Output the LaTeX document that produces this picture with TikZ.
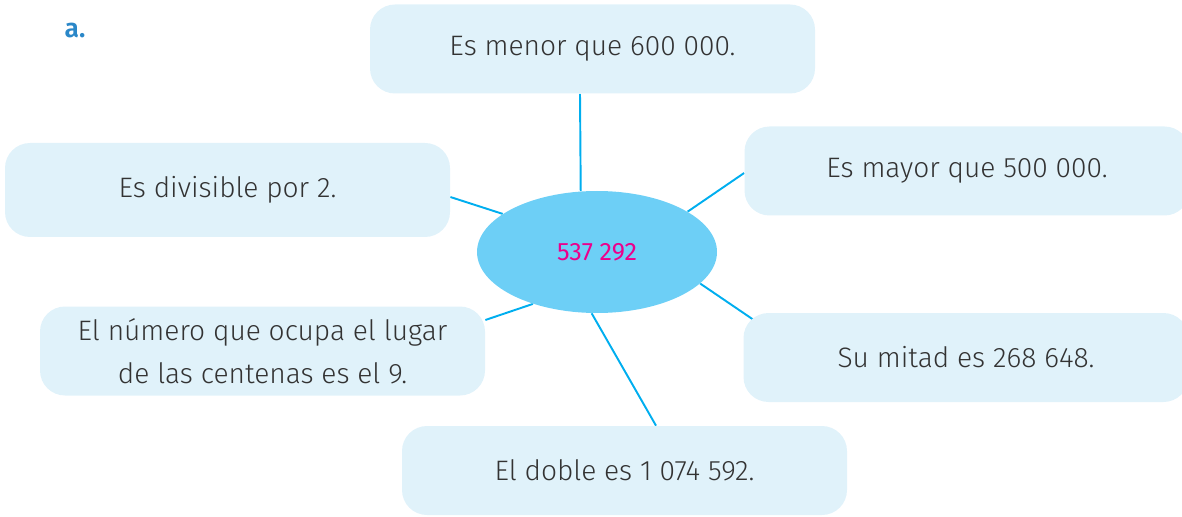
\documentclass[tikz,border=0pt]{standalone}
\usepackage{fontspec}
\setmainfont{Fira Sans}[UprightFont={* Light},BoldFont={* SemiBold}]
\newfontfamily\numfont{Fira Sans}
\usepackage{tikz}
\usetikzlibrary{shapes.geometric,backgrounds}
\definecolor{boxblue}{HTML}{E0F2FA}
\definecolor{ovalblue}{HTML}{6DCFF6}
\definecolor{lineblue}{HTML}{00AEEF}
\definecolor{numpink}{HTML}{EC008C}
\definecolor{txtgray}{HTML}{333333}
\definecolor{labelblue}{HTML}{2A87C8}
\tikzset{info node/.style={rectangle,rounded corners=0.5cm,fill=boxblue,minimum width=8.9cm,minimum height=1.78cm,text=txtgray,font=\fontsize{16}{24.4}\selectfont,align=center},
	center node/.style={ellipse,fill=ovalblue,minimum width=4.8cm,minimum height=2.44cm,inner sep=0pt,text=numpink,font=\numfont\fontsize{14.3}{17}\selectfont},
	spoke/.style={draw=lineblue,line width=1.1pt},
}

\begin{document}
\begin{tikzpicture}
			
			%%
			\clip (0,0) rectangle (23.64,-10.34);
			\node[text=labelblue,font=\bfseries\fontsize{15}{17}\selectfont] (lab) at (1.5,-0.62) {a.};
			\node[center node] (c) at (11.94,-5.04) {537 292};
			\node[info node] (menor) at (11.85,-0.98) {Es menor que 600 000.};
			\node[info node,minimum height=1.88cm] (div) at (4.55,-3.8) {Es divisible por 2.};
			\node[info node] (mayor) at (19.34,-3.42) {Es mayor que 500 000.};
			\node[info node] (cent) at (5.25,-7.02) {El número que ocupa el lugar\\de las centenas es el 9.};
			\node[info node] (mitad) at (19.32,-7.15) {Su mitad es 268 648.};
			\node[info node] (doble) at (12.49,-9.41) {El doble es 1 074 592.};
			
			\begin{scope}[on background layer]
			\path[spoke]
			([xshift=-0.25cm]menor.south) edge (c.105)
			([yshift=-0.14cm]div.east) edge (c.158)
			([yshift=-0.04cm]mayor.west) edge (c.24)
			([yshift=0.62cm]cent.east) edge (c.219)
			([xshift=0.36cm,yshift=0.65cm]mitad.west) edge (c.-17)
			([xshift=0.63cm]doble.north) edge (c.265)
			%([xshift=0.1cm]doble.north) edge (c.270)
			;
			\end{scope}
			\end{tikzpicture}
\end{document}
